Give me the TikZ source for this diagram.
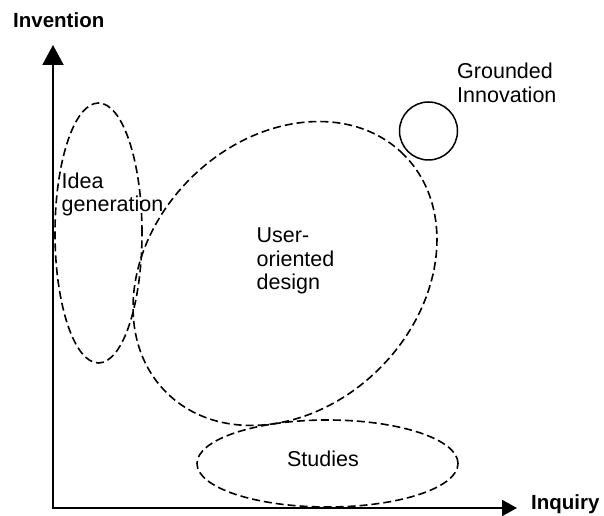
\documentclass[tikz,border=0pt]{standalone}
\usepackage{fontspec}
\setmainfont{Liberation Sans}
\usetikzlibrary{arrows.meta}
\begin{document}
\begin{tikzpicture}[x=1bp,y=1bp,
  region/.style={draw=black,line width=1.6bp,dash pattern=on 8bp off 4bp},
  axis/.style={draw=black,line width=2bp},
  lbl/.style={inner sep=0pt,anchor=base west,align=left,
    font=\fontsize{21.5bp}{23.5bp}\selectfont},
  axlbl/.style={inner sep=0pt,anchor=base west,
    font=\fontsize{20.5bp}{23bp}\selectfont\bfseries}]
\useasboundingbox (0,0) rectangle (604,516);

% axes
\coordinate (origin) at (53,8);
\coordinate (ytip) at (53,471);
\coordinate (xtip) at (517,8);
\draw[axis,{Triangle[length=20bp,width=21bp]}-{Triangle[length=15bp,width=16bp]}]
  (ytip) -- (origin) -- (xtip);
\node[axlbl] (inv) at (13,488) {Invention};
\node[axlbl] (inq) at (531,6) {Inquiry};

% regions
\coordinate (idea) at (98.5,283);
\draw[region] (idea) ellipse [x radius=43.5, y radius=130];
\coordinate (user) at (285,242.5);
\draw[region,rotate around={45:(user)}] (user) ellipse [x radius=168, y radius=134];
\coordinate (stud) at (327.5,52.5);
\draw[region] (stud) ellipse [x radius=130.5, y radius=43.5];
\coordinate (grnd) at (428.5,385);
\draw[black,line width=1.5bp] (grnd) circle [radius=29];

% labels (base anchor sits on the last line)
\node[lbl] (tidea) at (61.5,304) {Idea\\generation};
\node[lbl] (tuser) at (256.5,226) {User-\\oriented\\design};
\node[lbl,anchor=base] (tstud) at (323,49) {Studies};
\node[lbl] (tgrnd) at (457,413.5) {Grounded\\Innovation};
\end{tikzpicture}
\end{document}
